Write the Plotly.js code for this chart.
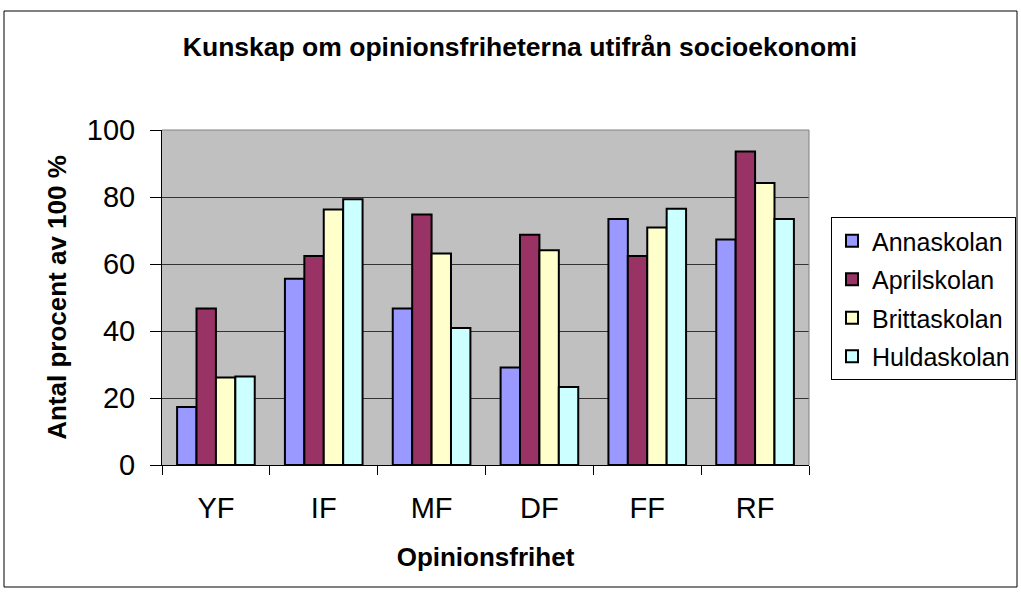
<!DOCTYPE html>
<html>
<head>
<meta charset="utf-8">
<script src="https://cdn.plot.ly/plotly-3.0.1.min.js"></script>
<style>html,body{margin:0;padding:0;background:#fff;}#chart{width:1021px;height:596px;}</style>
</head>
<body>
<div id="chart"></div>
<script>
const categories = ["YF", "IF", "MF", "DF", "FF", "RF"];
const seriesNames = ["Annaskolan", "Aprilskolan", "Brittaskolan", "Huldaskolan"];
const annaskolan   = [17.3, 55.6, 46.7, 29.1, 73.4, 67.3];
const aprilskolan  = [46.7, 62.4, 74.8, 68.7, 62.4, 93.6];
const brittaskolan = [26.1, 76.3, 63.1, 64.1, 70.9, 84.2];
const huldaskolan  = [26.4, 79.3, 40.9, 23.3, 76.5, 73.4];
const yTicks = [0, 20, 40, 60, 80, 100];

const seriesValues = [annaskolan, aprilskolan, brittaskolan, huldaskolan];
const colors = ["#9999FF", "#993366", "#FFFFCC", "#CCFFFF"];

const FONT = "Liberation Sans, Arial, sans-serif";

const traces = seriesValues.map((vals, i) => ({
  type: "bar",
  name: seriesNames[i],
  x: categories,
  y: vals,
  legendgroup: "g" + i,
  marker: {color: colors[i], line: {color: "#000", width: 2}},
  hoverinfo: "x+y+name"
}));

const L = 162, R = 212, T = 130, B = 131;
const PW = 1021 - L - R, PH = 596 - T - B;
const px = v => (v - L) / PW;
const py = v => (596 - B - v) / PH;

const layout = {
  width: 1021, height: 596,
  margin: {l: L, r: R, t: T, b: B, autoexpand: false},
  paper_bgcolor: "#fff",
  plot_bgcolor: "#C0C0C0",
  font: {family: FONT, color: "#000"},
  barmode: "group",
  bargap: 0.28,
  bargroupgap: 0,
  title: {
    text: "<b>Kunskap om opinionsfriheterna utifrån socioekonomi</b>",
    font: {size: 26.5, family: FONT, color: "#000"},
    x: 520 / 1021, xanchor: "center", xref: "container",
    y: 1 - 47 / 596, yanchor: "middle", yref: "container"
  },
  xaxis: {
    type: "category",
    showline: true, linecolor: "#000", linewidth: 1,
    ticks: "outside", ticklen: 9, tickcolor: "#000",
    tickson: "boundaries",
    tickfont: {size: 29, family: FONT},
    ticklabelstandoff: 17,
    showgrid: false,
    title: {text: "<b>Opinionsfrihet</b>", font: {size: 26, family: FONT}, standoff: 25},
    mirror: false
  },
  yaxis: {
    range: [0, 100],
    tickvals: yTicks,
    ticktext: yTicks.map(String),
    showline: true, linecolor: "#000", linewidth: 1,
    ticks: "outside", ticklen: 11, tickcolor: "#000",
    tickfont: {size: 29, family: FONT},
    ticklabelstandoff: 9,
    showgrid: true, gridcolor: "#333", gridwidth: 1,
    zeroline: false,
    title: {text: "<b>Antal procent av 100 %</b>", font: {size: 26, family: FONT}, standoff: 12}
  },
  legend: {
    xref: "container", yref: "container",
    x: 831 / 1021, y: 1 - 217 / 596, xanchor: "left", yanchor: "top",
    bordercolor: "#000", borderwidth: 1, bgcolor: "#fff",
    font: {size: 25, family: FONT},
    tracegroupgap: 3,
    itemclick: false
  },
  showlegend: true,
  shapes: [
    {type: "rect", xref: "paper", yref: "paper",
     x0: px(4), x1: px(1017), y0: py(587), y1: py(11),
     line: {color: "#000", width: 1}, fillcolor: "rgba(0,0,0,0)", layer: "below"},
    {type: "line", xref: "paper", yref: "paper", x0: 0, x1: 1, y0: 1, y1: 1,
     line: {color: "#808080", width: 1}},
    {type: "line", xref: "paper", yref: "paper", x0: 1, x1: 1, y0: 0, y1: 1,
     line: {color: "#808080", width: 1}}
  ]
};

Plotly.newPlot("chart", traces, layout, {displayModeBar: false, staticPlot: true});
</script>
</body>
</html>
